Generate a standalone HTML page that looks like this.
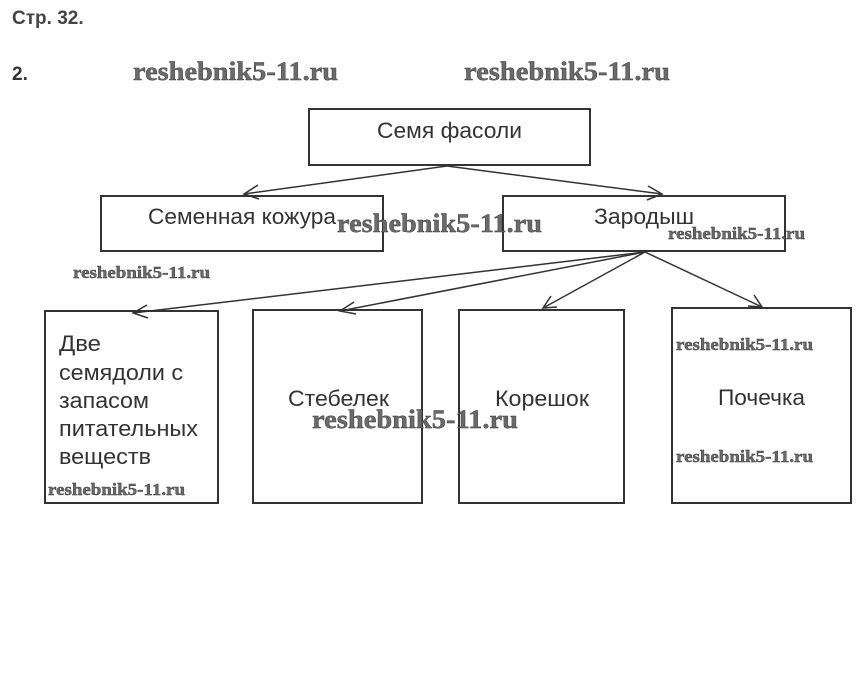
<!DOCTYPE html>
<html><head><meta charset="utf-8"><style>
body{margin:0;background:#fff;width:863px;height:692px;overflow:hidden}
svg{display:block}
.t{font-family:"Liberation Sans",sans-serif;fill:#333;font-size:22px;font-weight:300}
.w{font-family:"Liberation Serif",serif;font-weight:bold;fill:#6a6a6a;stroke:#333;stroke-width:0.4}
</style></head><body>
<svg width="863" height="692" xmlns="http://www.w3.org/2000/svg">
<text x="12" y="24" font-family="Liberation Sans,sans-serif" font-size="19" font-weight="bold" fill="#444">Стр. 32.</text>
<text x="12" y="80" font-family="Liberation Sans,sans-serif" font-size="19" font-weight="bold" fill="#333">2.</text>
<g fill="none" stroke="#333" stroke-width="2">
<rect x="309" y="109" width="281" height="56"/>
<rect x="101" y="196" width="282" height="55"/>
<rect x="503" y="196" width="282" height="55"/>
<rect x="45" y="311" width="173" height="192"/>
<rect x="253" y="310" width="169" height="193"/>
<rect x="459" y="310" width="165" height="193"/>
<rect x="672" y="308" width="179" height="195"/>
</g>
<g fill="none" stroke="#333" stroke-width="1.5">
<line x1="447" y1="166" x2="244" y2="194"/><polyline points="258,185 244,194 259,199"/>
<line x1="447" y1="166" x2="662" y2="194"/><polyline points="648,186 662,194 647,200"/>
<line x1="645" y1="252" x2="133" y2="313"/><polyline points="147,305 133,313 148,318"/>
<line x1="645" y1="252" x2="340" y2="311"/><polyline points="354,302 340,311 356,314"/>
<line x1="645" y1="252" x2="543" y2="308"/><polyline points="551,296 543,308 557,307"/>
<line x1="645" y1="252" x2="762" y2="307"/><polyline points="748,306 762,307 754,295"/>
</g>
<g lengthAdjust="spacingAndGlyphs">
<text class="t" x="377" y="138" textLength="145" lengthAdjust="spacingAndGlyphs">Семя фасоли</text>
<text class="t" x="148" y="224" textLength="188" lengthAdjust="spacingAndGlyphs">Семенная кожура</text>
<text class="t" x="594" y="224" textLength="100" lengthAdjust="spacingAndGlyphs">Зародыш</text>
<text class="t" x="59" y="351" textLength="42" lengthAdjust="spacingAndGlyphs">Две</text>
<text class="t" x="59" y="380" textLength="124" lengthAdjust="spacingAndGlyphs">семядоли с</text>
<text class="t" x="59" y="408" textLength="90" lengthAdjust="spacingAndGlyphs">запасом</text>
<text class="t" x="59" y="436" textLength="139" lengthAdjust="spacingAndGlyphs">питательных</text>
<text class="t" x="59" y="464" textLength="92" lengthAdjust="spacingAndGlyphs">веществ</text>
<text class="t" x="288" y="406" textLength="101" lengthAdjust="spacingAndGlyphs">Стебелек</text>
<text class="t" x="495" y="406" textLength="94" lengthAdjust="spacingAndGlyphs">Корешок</text>
<text class="t" x="718" y="405" textLength="87" lengthAdjust="spacingAndGlyphs">Почечка</text>
<text class="w" x="133" y="80" font-size="26" textLength="205" lengthAdjust="spacingAndGlyphs">reshebnik5-11.ru</text>
<text class="w" x="464" y="80" font-size="26" textLength="206" lengthAdjust="spacingAndGlyphs">reshebnik5-11.ru</text>
<text class="w" x="337" y="232" font-size="26" textLength="205" lengthAdjust="spacingAndGlyphs">reshebnik5-11.ru</text>
<text class="w" x="668" y="239" font-size="17" textLength="137" lengthAdjust="spacingAndGlyphs">reshebnik5-11.ru</text>
<text class="w" x="73" y="278" font-size="17" textLength="137" lengthAdjust="spacingAndGlyphs">reshebnik5-11.ru</text>
<text class="w" x="676" y="350" font-size="17" textLength="137" lengthAdjust="spacingAndGlyphs">reshebnik5-11.ru</text>
<text class="w" x="312" y="428" font-size="26" textLength="206" lengthAdjust="spacingAndGlyphs">reshebnik5-11.ru</text>
<text class="w" x="676" y="462" font-size="17" textLength="137" lengthAdjust="spacingAndGlyphs">reshebnik5-11.ru</text>
<text class="w" x="48" y="495" font-size="17" textLength="137" lengthAdjust="spacingAndGlyphs">reshebnik5-11.ru</text>
</g>
</svg>
</body></html>
